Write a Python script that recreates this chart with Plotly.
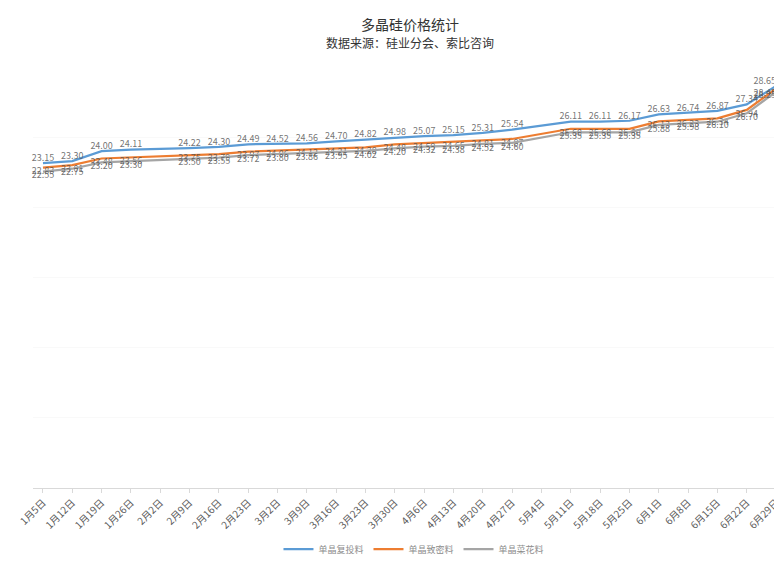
import plotly.graph_objects as go

dates = ["1月5日", "1月12日", "1月19日", "1月26日", "2月2日", "2月9日", "2月16日", "2月23日",
         "3月2日", "3月9日", "3月16日", "3月23日", "3月30日", "4月6日", "4月13日", "4月20日",
         "4月27日", "5月4日", "5月11日", "5月18日", "5月25日", "6月1日", "6月8日", "6月15日",
         "6月22日", "6月29日"]

futou = [23.15, 23.30, 24.00, 24.11, None, 24.22, 24.30, 24.49, 24.52, 24.56, 24.70, 24.82,
         24.98, 25.07, 25.15, 25.31, 25.54, None, 26.11, 26.11, 26.17, 26.63, 26.74, 26.87,
         27.34, 28.65]
zhimi = [22.83, 23.01, 23.48, 23.56, None, 23.75, 23.79, 23.97, 24.06, 24.12, 24.21, 24.28,
         24.48, 24.59, 24.65, 24.81, 24.87, None, 25.60, 25.60, 25.60, 26.13, 26.23, 26.34,
         26.94, 28.45]
caihua = [22.55, 22.75, 23.20, 23.30, None, 23.50, 23.55, 23.72, 23.80, 23.86, 23.95, 24.02,
          24.20, 24.32, 24.38, 24.52, 24.60, None, 25.35, 25.35, 25.35, 25.88, 25.98, 26.10,
          26.70, 28.25]

title_text = "多晶硅价格统计"
subtitle_text = "数据来源：硅业分会、索比咨询"

series = [
    ("单晶复投料", futou, "#5b9bd5", "top"),
    ("单晶致密料", zhimi, "#ed7d31", "bottom"),
    ("单晶菜花料", caihua, "#a5a5a5", "bottom"),
]

fig = go.Figure()
for name, vals, color, side in series:
    n = len(vals)
    positions = [f"{side} center"] * (n - 1) + [f"{side} left"]
    fig.add_trace(go.Scatter(
        x=dates, y=vals, name=name, mode="lines+text",
        line=dict(color=color, width=2.25),
        connectgaps=True,
        text=[("" if v is None else f"{v:.2f}") for v in vals],
        textposition=positions,
        textfont=dict(size=9, color="rgba(80,80,80,0.8)"),
        cliponaxis=False,
    ))

fig.update_layout(
    width=782, height=563,
    margin=dict(l=20, r=8, t=59, b=74),
    paper_bgcolor="white", plot_bgcolor="white",
    font=dict(family="Noto Sans CJK SC", color="#595959"),
    showlegend=True,
    legend=dict(orientation="h", x=0.51, xanchor="center", y=-0.145, yanchor="middle",
                font=dict(size=9, color="#8c8c8c"), itemwidth=30),
    xaxis=dict(type="category", range=[-0.34, 25.135], tickangle=-45,
               tickfont=dict(size=10, color="#595959"),
               showline=True, linecolor="#d9d9d9", linewidth=1,
               ticks="outside", tickcolor="#d9d9d9", ticklen=4,
               showgrid=False, zeroline=False),
    yaxis=dict(range=[0, 30], showticklabels=False, showline=False,
               showgrid=True, gridcolor="#f9f9f9", dtick=5, zeroline=False),
    annotations=[
        dict(text=title_text, xref="paper", yref="paper", x=0.505, y=1 + (59 - 15) / 430,
             xanchor="center", yanchor="middle", showarrow=False,
             font=dict(size=14, color="#333333", family="Noto Sans CJK SC")),
        dict(text=subtitle_text, xref="paper", yref="paper", x=0.505, y=1 + (59 - 34) / 430,
             xanchor="center", yanchor="middle", showarrow=False,
             font=dict(size=12, color="#333333", family="Noto Sans CJK SC")),
    ],
)

fig.write_html("out.html")
